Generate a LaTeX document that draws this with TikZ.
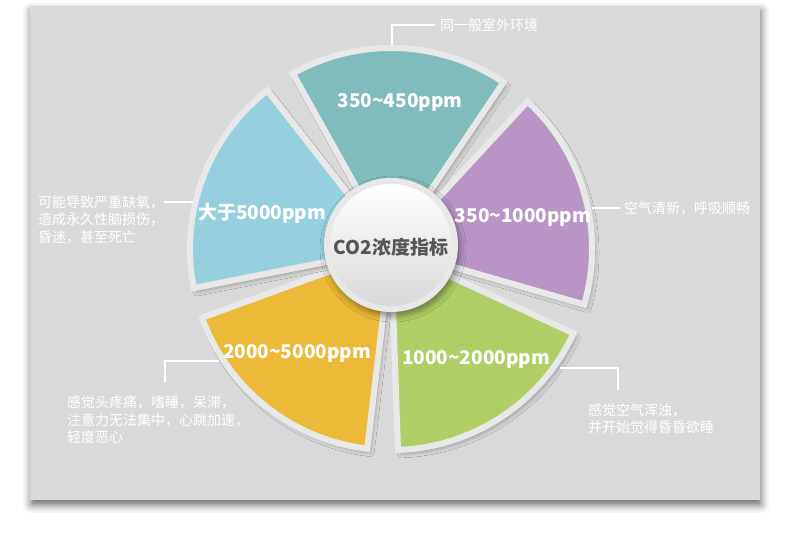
\documentclass[tikz,border=0pt]{standalone}
\usepackage{fontspec}
\setmainfont{Noto Sans CJK SC}
\usetikzlibrary{shadows.blur}

\definecolor{panel}{HTML}{D9D9D9}
\definecolor{rim}{HTML}{E8E8E8}
\definecolor{cteal}{HTML}{80BCBC}
\definecolor{cpurple}{HTML}{B895C4}
\definecolor{cgreen}{HTML}{B0CE66}
\definecolor{cyellow}{HTML}{ECB938}
\definecolor{cblue}{HTML}{96D0DF}
\definecolor{hubtext}{HTML}{555555}
\definecolor{hublow}{HTML}{D8D8D8}

\begin{document}
\begin{tikzpicture}[x=1pt,y=1pt,
  wedgeshape/.style={fill=rim, draw=rim, line width=6pt, line join=miter,
    blur shadow={shadow xshift=3pt, shadow yshift=-4pt, shadow blur radius=4pt, shadow opacity=28}},
  value/.style={text=white, font=\fontsize{19}{22}\selectfont\bfseries, inner sep=0pt},
  note/.style={text=white, font=\fontsize{14}{17}\selectfont, inner sep=0pt, anchor=west},
  leader/.style={white, line width=1.5pt}
]
\useasboundingbox (0,0) rectangle (790,537);

% grey card
\fill[panel, blur shadow={shadow xshift=1pt, shadow yshift=-5pt, shadow blur radius=8pt, shadow opacity=60}]
  (30,37) rectangle (760,531);

% five sectors round the hub
\coordinate (C) at (391,288);
\foreach \ang/\col in {87.6/cteal, 15.6/cpurple, -56.4/cgreen, -128.4/cyellow, -200.4/cblue}{
  \path[wedgeshape] (C) -- ++(\ang-31.6:201pt)
    arc[start angle=\ang-31.6, end angle=\ang+31.6, radius=201pt] -- cycle;
  \fill[\col] (C) -- ++(\ang-31.6:201pt)
    arc[start angle=\ang-31.6, end angle=\ang+31.6, radius=201pt] -- cycle;
  \draw[rim, line width=6pt, line join=miter] (C) -- ++(\ang-31.6:201pt)
    arc[start angle=\ang-31.6, end angle=\ang+31.6, radius=201pt] -- cycle;
}

% leader end points on the sectors
\coordinate (p1) at (392,492);
\coordinate (p2) at (592,329);
\coordinate (p3) at (560,169);
\coordinate (q3) at (618,169);
\coordinate (e3) at (618,147);
\coordinate (p4) at (219,176);
\coordinate (q4) at (165,176);
\coordinate (e4) at (165,155);
\coordinate (p5) at (193,335);

% side notes
\node[note] (n1) at (440,512) {同一般室外环境};
\node[note] (n2) at (624,329) {空气清新，呼吸顺畅};
\node[note] (n3a) at (588,127) {感觉空气浑浊，};
\node[note] (n3b) at (588,110) {并开始觉得昏昏欲睡};
\node[note] (n4a) at (67,135) {感觉头疼痛，嗜睡，呆滞，};
\node[note] (n4b) at (67,117) {注意力无法集中，心跳加速，};
\node[note] (n4c) at (67,100) {轻度恶心};
\node[note] (n5a) at (38,335) {可能导致严重缺氧，};
\node[note] (n5b) at (38,318) {造成永久性脑损伤，};
\node[note] (n5c) at (38,300) {昏迷，甚至死亡};

% leaders
\draw[leader] (p1) |- ([xshift=-5pt]n1.west);
\draw[leader] (p2) -- ([xshift=-4pt]n2.west);
\draw[leader] (p3) -- (q3) -- (e3);
\draw[leader] (p4) -- (q4) -- (e4);
\draw[leader] (p5) -- (n5a.east);

% hub
\coordinate (H) at (391,292);
\fill[rim, blur shadow={shadow xshift=2pt, shadow yshift=-4pt, shadow blur radius=6pt, shadow opacity=40}]
  (H) circle (67pt);
\shade[top color=white, bottom color=hublow] (H) circle (61pt);
\node[font=\fontsize{19}{22}\selectfont\bfseries, text=hubtext, inner sep=0pt] (hub) at (391,290) {CO2浓度指标};

% sector values
\node[value] (v1) at (400,435) {350\textasciitilde450ppm};
\node[value] (v2) at (523,320) {350\textasciitilde1000ppm};
\node[value] (v3) at (476,178) {1000\textasciitilde2000ppm};
\node[value] (v4) at (297,184) {2000\textasciitilde5000ppm};
\node[value] (v5) at (262,324) {大于5000ppm};
\end{tikzpicture}
\end{document}
